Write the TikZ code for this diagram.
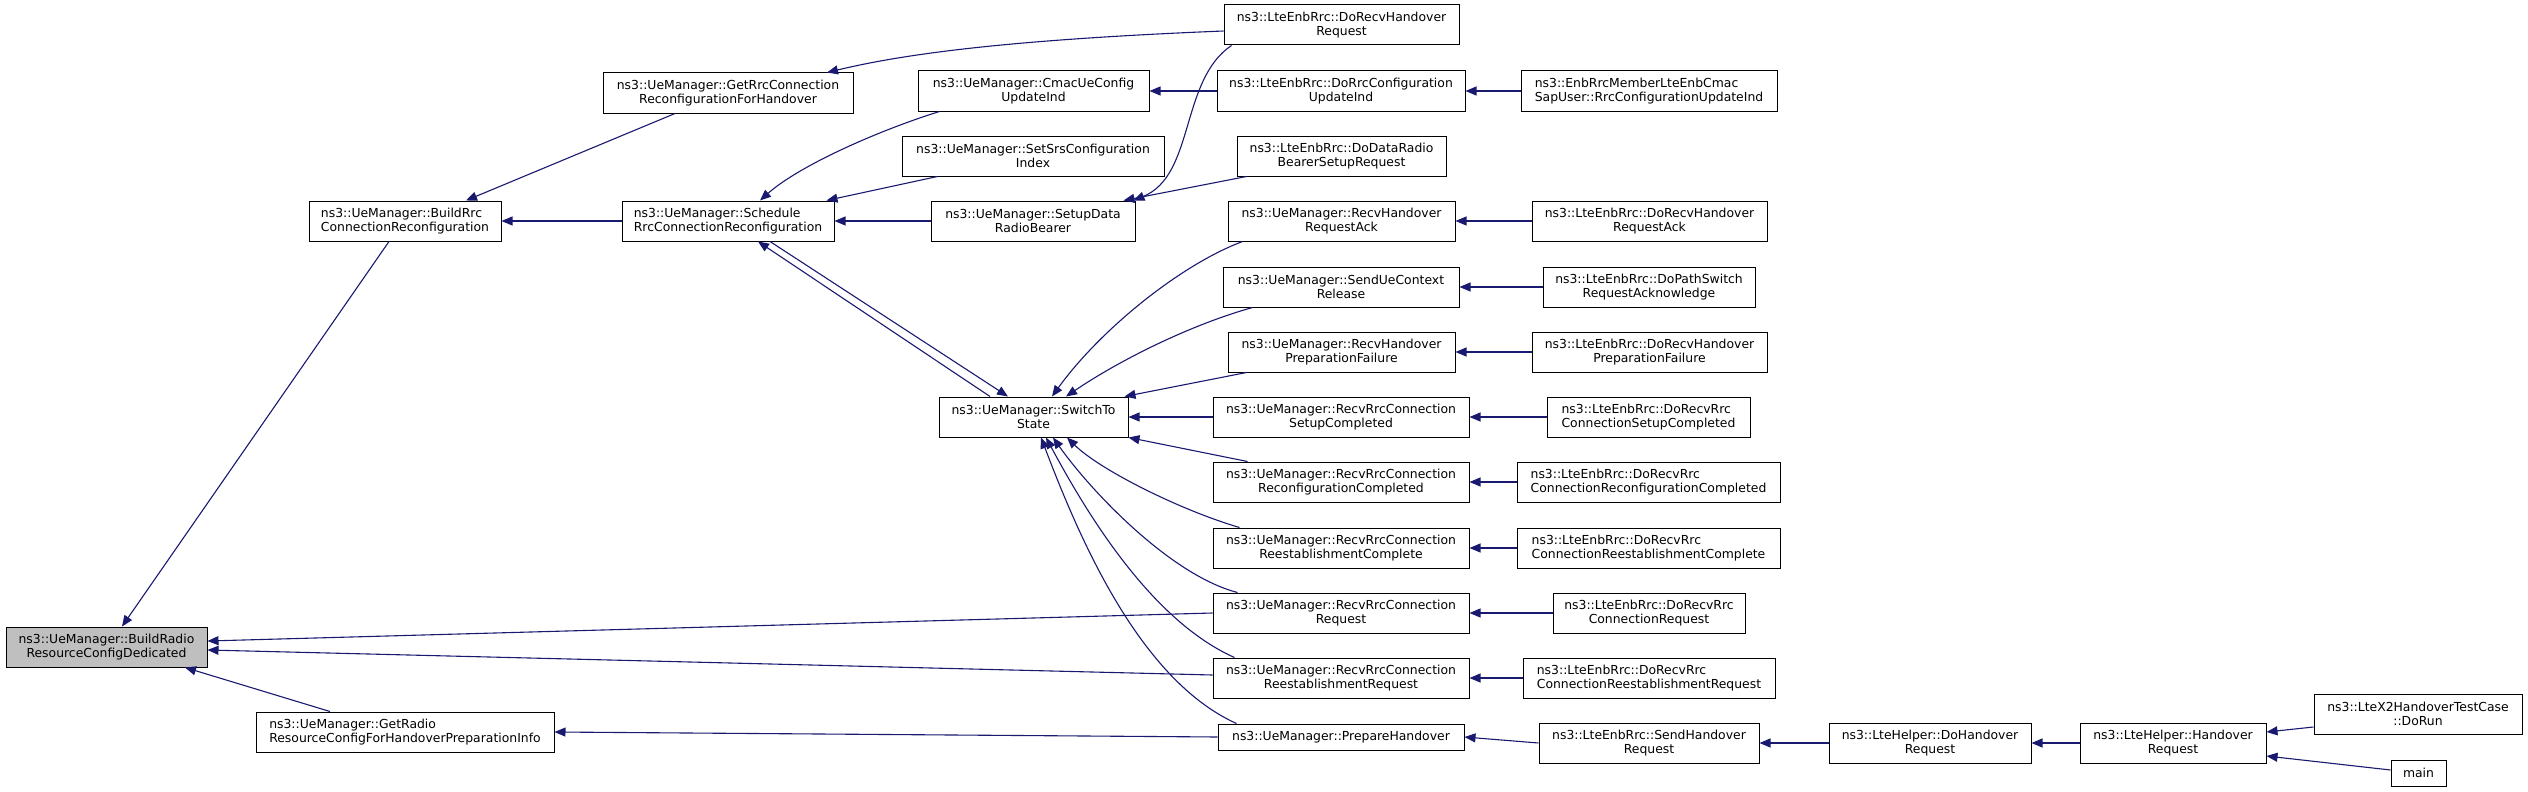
\documentclass[tikz,border=0pt]{standalone}
\usepackage{fontspec}
\newfontfamily\dotfont{DejaVu Sans}
\usetikzlibrary{arrows.meta}

\begin{document}
\begin{tikzpicture}[x=1pt, y=-1pt,
    fn/.style={draw=black, line width=1pt, fill=white, inner sep=0pt, align=center,
        font=\dotfont\fontsize{12.4}{13.6}\selectfont, minimum height=40pt},
    fnl/.style={fn, align=left},
    call/.style={draw=edgeblue, line width=1.1pt, -{Triangle[length=11pt,width=9pt]}}]
        \definecolor{edgeblue}{RGB}{25,25,112}
        \definecolor{rootgray}{RGB}{191,191,191}

        \useasboundingbox (0,0) rectangle (2528,792);

        % Nodes, left part
        \node[fn, fill=rootgray, minimum width=201pt] (root) at (106.5,647) {ns3::UeManager::BuildRadio\\ResourceConfigDedicated};
        \node[fnl, minimum width=192pt] (buildRrc) at (405,221) {ns3::UeManager::BuildRrc\\ConnectionReconfiguration};
        \node[fn, minimum width=250pt] (getRrc) at (728,93) {ns3::UeManager::GetRrcConnection\\ReconfigurationForHandover};
        \node[fnl, minimum width=212pt] (schedule) at (728,221) {ns3::UeManager::Schedule\\RrcConnectionReconfiguration};
        \node[fnl, minimum width=298pt] (getRadio) at (405,732) {ns3::UeManager::GetRadio\\ResourceConfigForHandoverPreparationInfo};

        % Nodes, middle column
        \node[fn, minimum width=231pt] (cmac) at (1033.5,91) {ns3::UeManager::CmacUeConfig\\UpdateInd};
        \node[fn, minimum width=262pt] (setSrs) at (1033,156) {ns3::UeManager::SetSrsConfiguration\\Index};
        \node[fn, minimum width=204pt] (setupData) at (1033,221) {ns3::UeManager::SetupData\\RadioBearer};
        \node[fn, minimum width=189pt] (switchTo) at (1033.5,417) {ns3::UeManager::SwitchTo\\State};

        % Nodes, callers of the middle column
        \node[fn, minimum width=235pt] (doRecvHo) at (1341.5,25) {ns3::LteEnbRrc::DoRecvHandover\\Request};
        \node[fn, minimum width=248pt] (doRrcCfg) at (1341,91) {ns3::LteEnbRrc::DoRrcConfiguration\\UpdateInd};
        \node[fn, minimum width=209pt] (doDataRadio) at (1341.5,156) {ns3::LteEnbRrc::DoDataRadio\\BearerSetupRequest};
        \node[fn, minimum width=227pt] (recvHoAck) at (1341.5,221) {ns3::UeManager::RecvHandover\\RequestAck};
        \node[fn, minimum width=236pt] (sendUeCtx) at (1341,287) {ns3::UeManager::SendUeContext\\Release};
        \node[fn, minimum width=227pt] (recvHoFail) at (1341.5,352) {ns3::UeManager::RecvHandover\\PreparationFailure};
        \node[fn, minimum width=256pt] (recvSetup) at (1341,417) {ns3::UeManager::RecvRrcConnection\\SetupCompleted};
        \node[fn, minimum width=256pt] (recvReconf) at (1341,482) {ns3::UeManager::RecvRrcConnection\\ReconfigurationCompleted};
        \node[fn, minimum width=256pt] (recvReestC) at (1341,548) {ns3::UeManager::RecvRrcConnection\\ReestablishmentComplete};
        \node[fn, minimum width=256pt] (recvReq) at (1341,613) {ns3::UeManager::RecvRrcConnection\\Request};
        \node[fn, minimum width=256pt] (recvReestR) at (1341,678) {ns3::UeManager::RecvRrcConnection\\ReestablishmentRequest};
        \node[fn, minimum width=246pt, minimum height=26pt] (prepHo) at (1341,737) {ns3::UeManager::PrepareHandover};

        % Nodes, right part
        \node[fnl, minimum width=256pt] (enbCmac) at (1649,91) {ns3::EnbRrcMemberLteEnbCmac\\SapUser::RrcConfigurationUpdateInd};
        \node[fn, minimum width=235pt] (doRecvHoAck) at (1649.5,221) {ns3::LteEnbRrc::DoRecvHandover\\RequestAck};
        \node[fn, minimum width=212pt] (doPathSw) at (1649,287) {ns3::LteEnbRrc::DoPathSwitch\\RequestAcknowledge};
        \node[fn, minimum width=235pt] (doRecvHoFail) at (1649.5,352) {ns3::LteEnbRrc::DoRecvHandover\\PreparationFailure};
        \node[fnl, minimum width=203pt] (doRecvSetup) at (1648.5,417) {ns3::LteEnbRrc::DoRecvRrc\\ConnectionSetupCompleted};
        \node[fnl, minimum width=263pt] (doRecvReconf) at (1648.5,482) {ns3::LteEnbRrc::DoRecvRrc\\ConnectionReconfigurationCompleted};
        \node[fnl, minimum width=263pt] (doRecvReestC) at (1648.5,548) {ns3::LteEnbRrc::DoRecvRrc\\ConnectionReestablishmentComplete};
        \node[fn, minimum width=192pt] (doRecvReq) at (1649,613) {ns3::LteEnbRrc::DoRecvRrc\\ConnectionRequest};
        \node[fnl, minimum width=252pt] (doRecvReestR) at (1649,678) {ns3::LteEnbRrc::DoRecvRrc\\ConnectionReestablishmentRequest};
        \node[fn, minimum width=220pt] (sendHo) at (1649,743) {ns3::LteEnbRrc::SendHandover\\Request};
        \node[fn, minimum width=202pt] (doHo) at (1930,743) {ns3::LteHelper::DoHandover\\Request};
        \node[fn, minimum width=186pt] (hoReq) at (2173,743) {ns3::LteHelper::Handover\\Request};
        \node[fn, minimum width=208pt] (doRun) at (2418,714) {ns3::LteX2HandoverTestCase\\::DoRun};
        \node[fn, minimum width=55pt, minimum height=26pt] (mainFn) at (2418.5,773) {main};

        % Edges into the root
        \draw[call] ([xshift=-16pt]buildRrc.south) -- ([xshift=15.5pt]root.north);
        \draw[call] ([xshift=-75pt]getRadio.north) -- ([xshift=78.5pt]root.south);
        \draw[call] (recvReq.west) -- ([yshift=6pt]root.east);
        \draw[call] ([yshift=3pt]recvReestR.west) -- ([yshift=-3pt]root.east);

        % Edges, left part
        \draw[call] ([xshift=-53pt]getRrc.south) -- ([xshift=61pt]buildRrc.north);
        \draw[call] (schedule.west) -- (buildRrc.east);
        \draw[call] (prepHo.west) -- (getRadio.east);
        \draw[call] ([yshift=-6pt]doRecvHo.west) .. controls (1000,40) and (900,55) .. ([xshift=99pt]getRrc.north);

        % Edges into Schedule and SetupData
        \draw[call] ([xshift=22pt]cmac.south west) .. controls (880,130) and (800,165) .. ([xshift=32pt]schedule.north);
        \draw[call] ([xshift=36pt]setSrs.south west) -- ([xshift=-8pt]schedule.north east);
        \draw[call] (setupData.west) -- (schedule.east);
        \draw[call] ([xshift=42pt]schedule.south) -- ([xshift=-25.5pt]switchTo.north);
        \draw[call] ([xshift=-43.5pt]switchTo.north) -- ([xshift=30pt]schedule.south);
        \draw[call] (doRrcCfg.west) -- (cmac.east);
        \draw[call] (enbCmac.west) -- (doRrcCfg.east);
        \draw[call] ([xshift=8pt]doRecvHo.south west) .. controls (1180,80) and (1195,175) .. ([xshift=-2pt]setupData.north east);
        \draw[call] ([xshift=10pt]doDataRadio.south west) -- ([xshift=-12pt]setupData.north east);

        % Edges into SwitchTo
        \draw[call] ([xshift=15pt]recvHoAck.south west) .. controls (1180,265) and (1100,330) .. ([xshift=18.5pt]switchTo.north);
        \draw[call] ([xshift=30pt]sendUeCtx.south west) .. controls (1190,325) and (1120,360) .. ([xshift=32.5pt]switchTo.north);
        \draw[call] ([xshift=19pt]recvHoFail.south west) -- ([xshift=-4pt]switchTo.north east);
        \draw[call] (recvSetup.west) -- (switchTo.east);
        \draw[call] ([xshift=35pt]recvReconf.north west) -- (switchTo.south east);
        \draw[call] ([xshift=27pt]recvReestC.north west) .. controls (1180,510) and (1100,470) .. ([xshift=33.5pt]switchTo.south);
        \draw[call] ([xshift=25pt]recvReq.north west) .. controls (1170,575) and (1090,490) .. ([xshift=19.5pt]switchTo.south);
        \draw[call] ([xshift=22pt]recvReestR.north west) .. controls (1150,620) and (1085,510) .. ([xshift=12.5pt]switchTo.south);
        \draw[call] ([xshift=19pt]prepHo.north west) .. controls (1140,680) and (1080,540) .. ([xshift=7.5pt]switchTo.south);

        % Edges, right part
        \draw[call] (doRecvHoAck.west) -- (recvHoAck.east);
        \draw[call] (doPathSw.west) -- (sendUeCtx.east);
        \draw[call] (doRecvHoFail.west) -- (recvHoFail.east);
        \draw[call] (doRecvSetup.west) -- (recvSetup.east);
        \draw[call] (doRecvReconf.west) -- (recvReconf.east);
        \draw[call] (doRecvReestC.west) -- (recvReestC.east);
        \draw[call] (doRecvReq.west) -- (recvReq.east);
        \draw[call] (doRecvReestR.west) -- (recvReestR.east);
        \draw[call] (sendHo.west) -- (prepHo.east);
        \draw[call] (doHo.west) -- (sendHo.east);
        \draw[call] (hoReq.west) -- (doHo.east);
        \draw[call] ([yshift=-13pt]doRun.west) -- ([yshift=11pt]hoReq.east);
        \draw[call] ([yshift=3pt]mainFn.west) -- ([yshift=-13pt]hoReq.east);
    \end{tikzpicture}
\end{document}
